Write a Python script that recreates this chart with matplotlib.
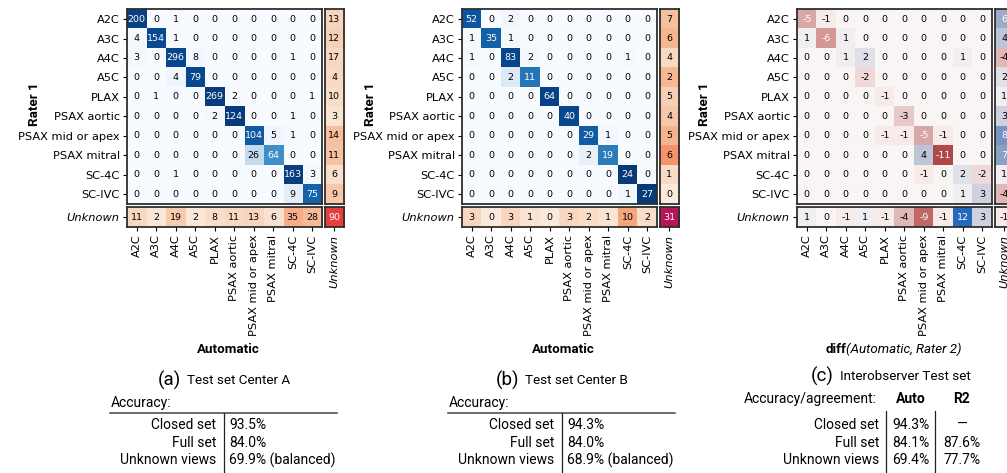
import numpy as np
import matplotlib
matplotlib.use("Agg")
import matplotlib.pyplot as plt
import seaborn as sns
from matplotlib.lines import Line2D

# ---------------------------------------------------------------- data
views = ["A2C", "A3C", "A4C", "A5C", "PLAX", "PSAX aortic",
         "PSAX mid or apex", "PSAX mitral", "SC-4C", "SC-IVC"]
unknown_name = "Unknown"

# Center A: rows = Rater 1, columns = Automatic
center_a_known = [
    [200, 0, 1, 0, 0, 0, 0, 0, 0, 0],
    [4, 154, 1, 0, 0, 0, 0, 0, 0, 0],
    [3, 0, 296, 8, 0, 0, 0, 0, 1, 0],
    [0, 0, 4, 79, 0, 0, 0, 0, 0, 0],
    [0, 1, 0, 0, 269, 2, 0, 0, 0, 1],
    [0, 0, 0, 0, 2, 124, 0, 0, 1, 0],
    [0, 0, 0, 0, 0, 0, 104, 5, 1, 0],
    [0, 0, 0, 0, 0, 0, 26, 64, 0, 0],
    [0, 0, 1, 0, 0, 0, 0, 0, 163, 3],
    [0, 0, 0, 0, 0, 0, 0, 0, 9, 75],
]
center_a_pred_unknown = [13, 12, 17, 4, 10, 3, 14, 11, 6, 9]
center_a_true_unknown = [11, 2, 19, 2, 8, 11, 13, 6, 35, 28]
center_a_both_unknown = 90

# Center B
center_b_known = [
    [52, 0, 2, 0, 0, 0, 0, 0, 0, 0],
    [1, 35, 1, 0, 0, 0, 0, 0, 0, 0],
    [1, 0, 83, 2, 0, 0, 0, 0, 1, 0],
    [0, 0, 2, 11, 0, 0, 0, 0, 0, 0],
    [0, 0, 0, 0, 64, 0, 0, 0, 0, 0],
    [0, 0, 0, 0, 0, 40, 0, 0, 0, 0],
    [0, 0, 0, 0, 0, 0, 29, 1, 0, 0],
    [0, 0, 0, 0, 0, 0, 2, 19, 0, 0],
    [0, 0, 0, 0, 0, 0, 0, 0, 24, 0],
    [0, 0, 0, 0, 0, 0, 0, 0, 1, 27],
]
center_b_pred_unknown = [7, 6, 4, 2, 5, 4, 5, 6, 1, 0]
center_b_true_unknown = [3, 0, 3, 1, 0, 3, 2, 1, 10, 2]
center_b_both_unknown = 31

# Interobserver set: difference Automatic - Rater 2
interobs_diff_known = [
    [-5, -1, 0, 0, 0, 0, 0, 0, 0, 0],
    [1, -6, 1, 0, 0, 0, 0, 0, 0, 0],
    [0, 0, 1, 2, 0, 0, 0, 0, 1, 0],
    [0, 0, 0, -2, 0, 0, 0, 0, 0, 0],
    [0, 0, 0, 0, -1, 0, 0, 0, 0, 0],
    [0, 0, 0, 0, 0, -3, 0, 0, 0, 0],
    [0, 0, 0, 0, -1, -1, -5, -1, 0, 0],
    [0, 0, 0, 0, 0, 0, 4, -11, 0, 0],
    [0, 0, 0, 0, 0, 0, -1, 0, 2, -2],
    [0, 0, 0, 0, 0, 0, 0, 0, 1, 3],
]
interobs_diff_pred_unknown = [6, 4, -4, 2, 1, 3, 8, 7, 1, -4]
interobs_diff_true_unknown = [1, 0, -1, 1, -1, -4, -9, -1, 12, 3]
interobs_diff_both_unknown = -1
diff_limit = 12

table_rows = ["Closed set", "Full set", "Unknown views"]
acc_a = ["93.5%", "84.0%", "69.9% (balanced)"]
acc_b = ["94.3%", "84.0%", "68.9% (balanced)"]
acc_c_auto = ["94.3%", "84.1%", "69.4%"]
acc_c_r2 = ["\u2014", "87.6%", "77.7%"]

# ---------------------------------------------------------------- figure
W, H = 1007, 473
fig = plt.figure(figsize=(W / 100, H / 100), dpi=100)
fig.patch.set_facecolor("white")

TICK_FS = 8.2
CELL_FS = 6.8
FRAME = "#2e2e2e"


def fx(x):
    return x / W


def fy(y):
    return 1 - y / H


def px_axes(x, y, w, h):
    return fig.add_axes([x / W, 1 - (y + h) / H, w / W, h / H])


def style_axes(ax):
    for s in ax.spines.values():
        s.set_color(FRAME)
        s.set_linewidth(1.3)
    ax.tick_params(length=3, width=0.8, pad=2.2, labelsize=TICK_FS,
                   colors="black")


def heat(ax, values, labels, cmap, vmin, vmax, text_color):
    values = np.atleast_2d(values)
    labels = np.atleast_2d(labels)
    ax.imshow(values, cmap=cmap, vmin=vmin, vmax=vmax, aspect="auto",
              interpolation="nearest")
    for i in range(values.shape[0]):
        for j in range(values.shape[1]):
            ax.text(j, i, f"{int(labels[i, j])}", ha="center", va="center",
                    fontsize=CELL_FS, color=text_color(values[i, j]))
    ax.set_xticks([])
    ax.set_yticks([])
    style_axes(ax)


blues = plt.get_cmap("Blues")
rocket_r = sns.color_palette("rocket_r", as_cmap=True)
vlag_r = sns.color_palette("vlag_r", as_cmap=True)

TOP = 9.3
CELL_W = 19.5
MAIN_W = CELL_W * 10
MAIN_H = 194.7
GAP_X = 2.5
ROW_Y = 207.3
ROW_H = 20


def panel(x0, known, pred_unk, true_unk, both_unk, kind):
    known = np.array(known, float)
    pred_unk = np.array(pred_unk, float)
    true_unk = np.array(true_unk, float)
    if kind == "counts":
        row_tot = known.sum(1) + pred_unk
        main_v = known / row_tot[:, None]
        col_v = pred_unk / row_tot
        utot = true_unk.sum() + both_unk
        row_v = true_unk / utot
        both_v = both_unk / utot
        m_cmap, m_lim = blues, (0, 1)
        s_cmap, s_lim = rocket_r, (0, 1)
        m_txt = lambda v: "white" if v > 0.5 else "black"
        s_txt = lambda v: "white" if v > 0.3 else "black"
    else:
        main_v, col_v, row_v, both_v = known, pred_unk, true_unk, both_unk
        m_cmap = s_cmap = vlag_r
        m_lim = s_lim = (-diff_limit, diff_limit)
        m_txt = s_txt = (lambda v: "white" if abs(v) / diff_limit > 0.4
                         else "black")

    ax_m = px_axes(x0, TOP, MAIN_W, MAIN_H)
    heat(ax_m, main_v, known, m_cmap, *m_lim, m_txt)
    ax_m.set_yticks(range(10))
    ax_m.set_yticklabels(views)

    ax_c = px_axes(x0 + MAIN_W + GAP_X, TOP, CELL_W, MAIN_H)
    heat(ax_c, col_v[:, None], pred_unk[:, None], s_cmap, *s_lim, s_txt)

    ax_r = px_axes(x0, ROW_Y, MAIN_W, ROW_H)
    heat(ax_r, row_v[None, :], true_unk[None, :], s_cmap, *s_lim, s_txt)
    ax_r.set_yticks([0])
    ax_r.set_yticklabels([unknown_name], style="italic")
    ax_r.set_xticks(range(10))
    ax_r.set_xticklabels(views, rotation=90)

    ax_k = px_axes(x0 + MAIN_W + GAP_X, ROW_Y, CELL_W, ROW_H)
    heat(ax_k, [[both_v]], [[both_unk]], s_cmap, *s_lim, s_txt)
    ax_k.set_xticks([0])
    ax_k.set_xticklabels([unknown_name], rotation=90, style="italic")

    fig.text(fx(x0 - 92), fy(TOP + MAIN_H / 2 - 3), "Rater 1", rotation=90,
             ha="center", va="center", family="Roboto", weight="bold",
             fontsize=9.6)


PANEL_X = [127, 462, 797]
panel(PANEL_X[0], center_a_known, center_a_pred_unknown,
      center_a_true_unknown, center_a_both_unknown, "counts")
panel(PANEL_X[1], center_b_known, center_b_pred_unknown,
      center_b_true_unknown, center_b_both_unknown, "counts")
panel(PANEL_X[2], interobs_diff_known, interobs_diff_pred_unknown,
      interobs_diff_true_unknown, interobs_diff_both_unknown, "diff")

# x-axis titles
for x0 in PANEL_X[:2]:
    fig.text(fx(x0 + MAIN_W / 2 + 4), fy(349), "Automatic", ha="center",
             va="center", family="Roboto", weight="bold", fontsize=9.6)
split = 846
fig.text(fx(split), fy(349), "diff", ha="right", va="center",
         family="Roboto", weight="bold", fontsize=9.6)
fig.text(fx(split), fy(349), "(Automatic, Rater 2)", ha="left", va="center",
         family="Roboto", style="italic", fontsize=9.6)

# ---------------------------------------------------------------- captions
CAP_FS = 9.7
TAB_FS = 10


def caption(x_letter_right, y, letter, title):
    fig.text(fx(x_letter_right), fy(y), letter, ha="right", va="center",
             family="Roboto", fontsize=13.5)
    fig.text(fx(x_letter_right + 6), fy(y), title, ha="left", va="center",
             family="Roboto", fontsize=CAP_FS)


def hline(x1, x2, y, lw=1.1):
    fig.add_artist(Line2D([fx(x1), fx(x2)], [fy(y), fy(y)], color="#444444",
                          lw=lw))


def vline(x, y1, y2, lw=0.9):
    fig.add_artist(Line2D([fx(x), fx(x)], [fy(y1), fy(y2)], color="#222222",
                          lw=lw))


ROW_YS = [425, 442.5, 460]


def simple_table(dx, values, title_letter, title):
    caption(181 + dx, 380, title_letter, title)
    fig.text(fx(111 + dx), fy(403), "Accuracy:", ha="left", va="center",
             family="Roboto", fontsize=TAB_FS)
    hline(110 + dx, 337 + dx, 413)
    vline(224 + dx, 413, 473)
    for lab, val, y in zip(table_rows, values, ROW_YS):
        fig.text(fx(216 + dx), fy(y), lab, ha="right", va="center",
                 family="Roboto", fontsize=TAB_FS)
        fig.text(fx(229 + dx), fy(y), val, ha="left", va="center",
                 family="Roboto", fontsize=TAB_FS)


simple_table(0, acc_a, "(a)", "Test set Center A")
simple_table(338, acc_b, "(b)", "Test set Center B")

# Interobserver table
caption(834, 376, "(c)", "Interobserver Test set")
fig.text(fx(877), fy(399), "Accuracy/agreement:", ha="right", va="center",
         family="Roboto", fontsize=TAB_FS)
fig.text(fx(911), fy(399), "Auto", ha="center", va="center",
         family="Roboto", weight="bold", fontsize=TAB_FS)
fig.text(fx(961), fy(399), "R2", ha="center", va="center",
         family="Roboto", weight="bold", fontsize=TAB_FS)
vline(886, 411, 473)
vline(935, 411, 473)
for lab, v1, v2, y in zip(table_rows, acc_c_auto, acc_c_r2, ROW_YS):
    fig.text(fx(879), fy(y), lab, ha="right", va="center",
             family="Roboto", fontsize=TAB_FS)
    fig.text(fx(911), fy(y), v1, ha="center", va="center",
             family="Roboto", fontsize=TAB_FS)
    fig.text(fx(962), fy(y), v2, ha="center", va="center",
             family="Roboto", fontsize=TAB_FS)

fig.savefig("out.png", dpi=100)
